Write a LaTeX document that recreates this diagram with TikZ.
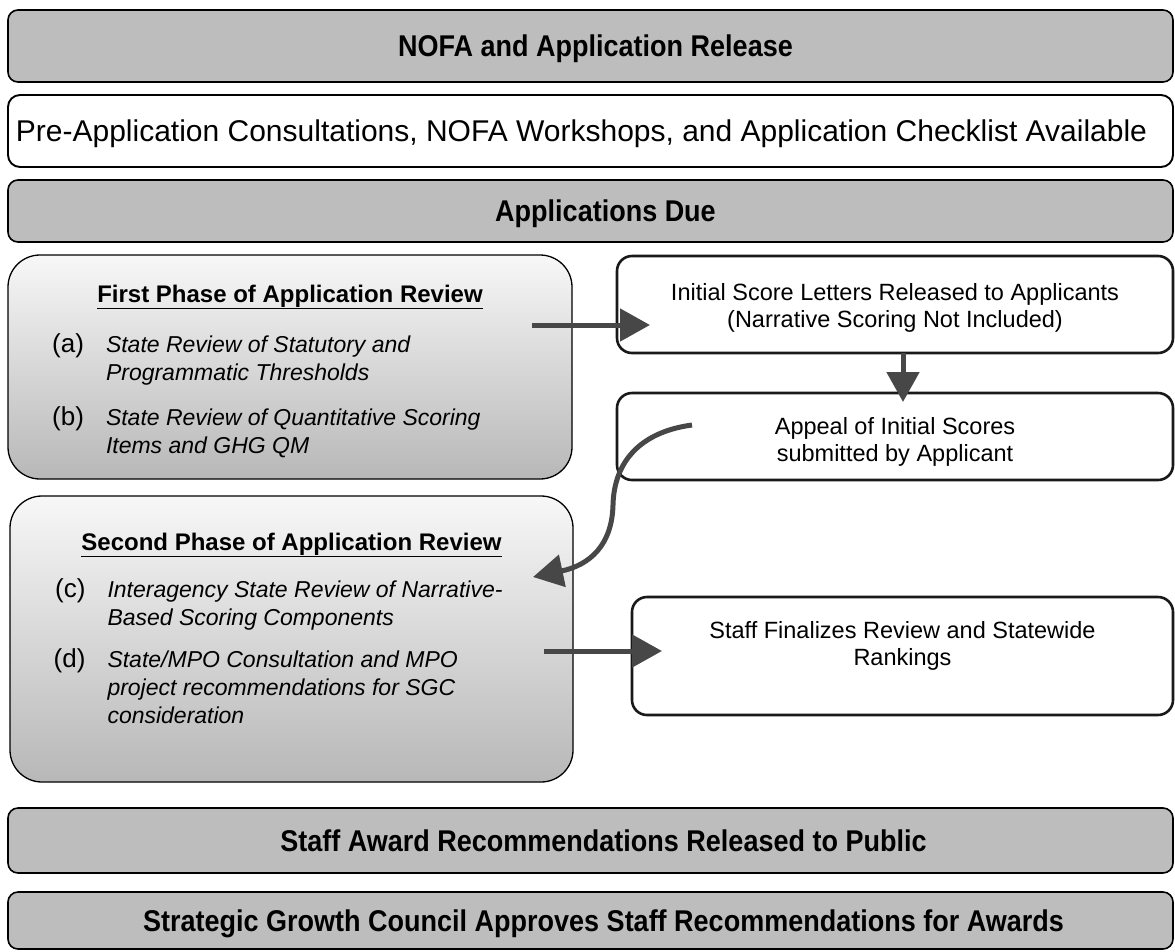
\documentclass[tikz,border=0pt]{standalone}
\usepackage{fontspec}
\setmainfont{Liberation Sans}
\usepackage{graphicx}
\usetikzlibrary{arrows.meta,calc}
\newcommand{\hdr}[1]{\scalebox{0.9}[1]{\fontsize{30}{36}\selectfont\bfseries #1}}
\newcommand{\lab}[1]{\makebox[50pt][r]{\fontsize{26}{28}\selectfont #1}}
\newcommand{\itm}[1]{{\fontsize{23}{28}\selectfont\itshape #1}}
\newcommand{\ptitle}[1]{{\fontsize{24}{28}\selectfont\bfseries\underline{#1}}}
\tikzset{
  hdrbox/.style={draw=black, line width=1.6pt, rounded corners=10pt, fill=black!26,
    minimum width=1165pt, inner sep=0pt, outer sep=0pt, text height=21.5pt, text depth=0pt},
  phasebox/.style={draw=black, line width=1.3pt, rounded corners=32pt, top color=black!3,
    bottom color=black!28, inner sep=0pt, outer sep=0pt, text height=21pt},
  midbox/.style={draw=black!90, line width=2.6pt, rounded corners=15pt, fill=white,
    inner sep=0pt, outer sep=0pt, align=center, font=\fontsize{23.5}{27}\selectfont, text depth=0pt},
  bigarrow/.style={line width=5pt, draw=black!72, -{Triangle[length=30pt,width=32pt]}},
}
\begin{document}
\begin{tikzpicture}[x=1pt,y=1pt]
\useasboundingbox (0,0) rectangle (1175,-951);
\fill[white] (0,0) rectangle (1175,-951);

\node[hdrbox, minimum height=72pt] (nofa) at (590.5,-46)
  {\hdr{NOFA and Application Release}\hspace*{-10pt}};
\node[hdrbox, fill=white, line width=1.9pt, rounded corners=12pt, minimum height=72pt, text height=21.5pt] (pre) at (590.5,-131)
  {\hspace*{-18pt}\fontsize{30}{36}\selectfont Pre-Application Consultations, NOFA Workshops, and Application Checklist Available};
\node[hdrbox, minimum height=62pt] (due) at (590.5,-211)
  {\hdr{Applications Due}\hspace*{-30pt}};

\node[phasebox, minimum width=564pt, minimum height=224pt, text depth=151pt] (fp) at (290,-367)
  {\fontsize{23}{28}\selectfont
   \begin{tabular}[t]{@{}p{50pt}@{\hspace{22pt}}p{440pt}@{}}
   \multicolumn{2}{@{}c@{}}{\ptitle{First Phase of Application Review}}\\[22pt]
   \lab{(a)} & \itm{State Review of Statutory and}\\
             & \itm{Programmatic Thresholds}\\[17pt]
   \lab{(b)} & \itm{State Review of Quantitative Scoring}\\
             & \itm{Items and GHG QM}
   \end{tabular}};

\node[phasebox, minimum width=563pt, minimum height=286pt, text depth=199pt] (sp) at (291.5,-639)
  {\fontsize{23}{28}\selectfont
   \begin{tabular}[t]{@{}p{50pt}@{\hspace{22pt}}p{440pt}@{}}
   \multicolumn{2}{@{}c@{}}{\ptitle{Second Phase of Application Review}}\\[19pt]
   \lab{(c)} & \itm{Interagency State Review of Narrative-}\\
             & \itm{Based Scoring Components}\\[14pt]
   \lab{(d)} & \itm{State/MPO Consultation and MPO}\\
             & \itm{project recommendations for SGC}\\
             & \itm{consideration}
   \end{tabular}};

\node[midbox, minimum width=556pt, minimum height=97pt, text height=45pt] (ini) at (895,-304.5)
  {Initial Score Letters Released to Applicants\\(Narrative Scoring Not Included)};
\node[midbox, minimum width=556pt, minimum height=87pt, text height=49pt] (app) at (895,-436.5)
  {Appeal of Initial Scores\\submitted by Applicant};
\node[midbox, minimum width=541pt, minimum height=118pt, text height=18pt] (fin) at (902.5,-656)
  {Staff Finalizes Review and Statewide\\Rankings};

\node[hdrbox, minimum height=65pt] (pub) at (590.5,-840.5)
  {\hdr{Staff Award Recommendations Released to Public}\hspace*{-26pt}};
\node[hdrbox, minimum height=57pt] (sgc) at (590.5,-920.5)
  {\hdr{Strategic Growth Council Approves Staff Recommendations for Awards}\hspace*{-26pt}};

\draw[bigarrow] ([shift={(-40pt,42pt)}]fp.east) -- ([shift={(33pt,-20.5pt)}]ini.west);
\draw[bigarrow] ([xshift=8pt]ini.south) -- ([shift={(8pt,-9pt)}]app.north);
\draw[bigarrow] ([shift={(75pt,11.5pt)}]app.west)
  .. controls (640,-432) and (614,-462) .. (613,-505)
  .. controls (612,-545) and (590,-565) .. ([shift={(-40pt,62pt)}]sp.east);
\draw[bigarrow] ([shift={(-29pt,-12pt)}]sp.east) -- ([shift={(30pt,5pt)}]fin.west);
\end{tikzpicture}
\end{document}
